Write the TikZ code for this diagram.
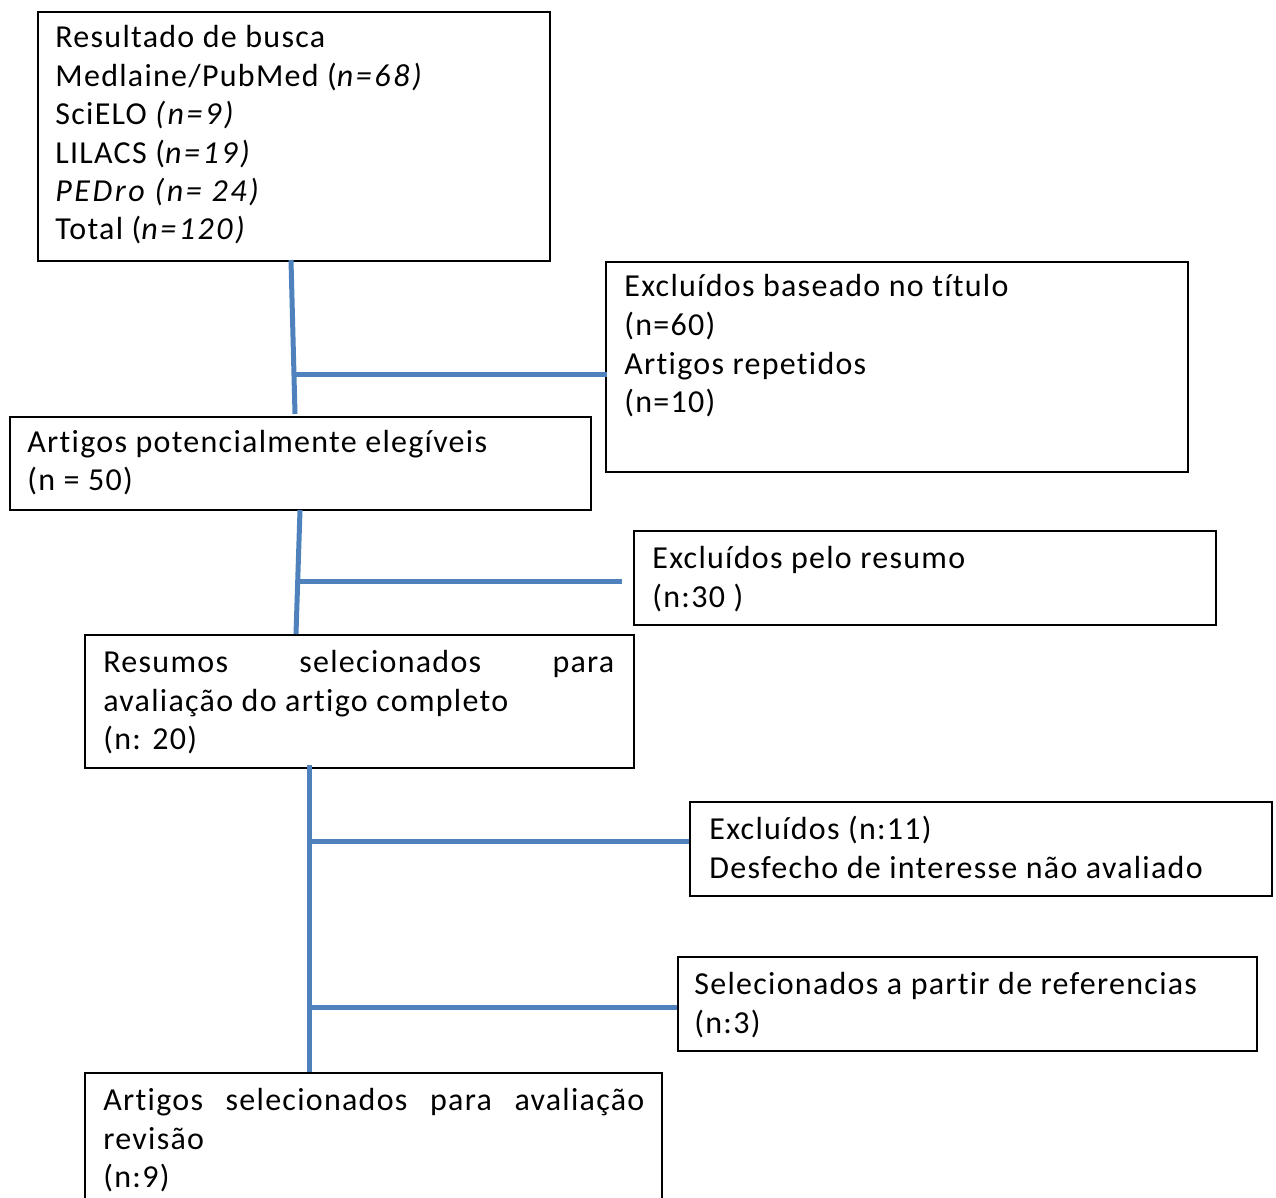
\documentclass[tikz,border=0pt]{standalone}
\usepackage{fontspec}
\setmainfont{Carlito}[LetterSpace=4.0,Ligatures=NoCommon,ItalicFeatures={LetterSpace=8.0}]
\definecolor{flowblue}{RGB}{79,129,189}
\begin{document}
\begin{tikzpicture}[x=0.5pt,y=-0.5pt,
  box/.style={draw=black,line width=1pt,inner sep=0pt,anchor=north west,fill=none},
  txt/.style={anchor=base west,inner sep=0pt,font=\fontsize{16}{19.3}\selectfont},
  flow/.style={draw=flowblue,line width=2.5pt}]
\useasboundingbox (0,0) rectangle (1276,1198);
% boxes
\node[box,minimum width=256pt,minimum height=124.5pt] (b1) at (37,11) {};
\node[box,minimum width=291pt,minimum height=105pt] (b2) at (605,261) {};
\node[box,minimum width=290.5pt,minimum height=46.5pt] (b3) at (9,416) {};
\node[box,minimum width=291pt,minimum height=47pt] (b4) at (633,530) {};
\node[box,minimum width=274.5pt,minimum height=66.5pt] (b5) at (84,634) {};
\node[box,minimum width=291pt,minimum height=47pt] (b6) at (689,801) {};
\node[box,minimum width=289.5pt,minimum height=47pt] (b7) at (677,956) {};
\node[box,minimum width=288.5pt,minimum height=76pt] (b8) at (84,1072) {};
% texts box 1
\node[txt] (t11) at (55,48) {Resultado de busca};
\node[txt] (t12) at (55,86.5) {Medlaine/PubMed (\textit{n=68)}};
\node[txt] (t13) at (55,125) {SciELO \textit{(n=9)}};
\node[txt] (t14) at (55,163.5) {LILACS (\textit{n=19)}};
\node[txt] (t15) at (55,202) {\textit{PEDro (n= 24)}};
\node[txt] (t16) at (55,240) {Total (\textit{n=120)}};
% box 2
\node[txt] (t21) at (624,297) {Excluídos baseado no título};
\node[txt] (t22) at (624,336) {(n=60)};
\node[txt] (t23) at (624,374.5) {Artigos repetidos};
\node[txt] (t24) at (624,413) {(n=10)};
% box 3
\node[txt] (t31) at (27,452) {Artigos potencialmente elegíveis};
\node[txt] (t32) at (27,491) {(n = 50)};
% box 4
\node[txt] (t41) at (652,568) {Excluídos pelo resumo};
\node[txt] (t42) at (652,607) {(n:30 )};
% box 5
\node[txt] (t51) at (103,672) {\hbox to 255.5pt{Resumos\hfill selecionados\hfill para}};
\node[txt] (t52) at (103,711) {avaliação do artigo completo};
\node[txt] (t53) at (103,749.5) {(n: 20)};
% box 6
\node[txt] (t61) at (709,839) {Excluídos (n:11)};
\node[txt] (t62) at (709,878) {Desfecho de interesse não avaliado};
% box 7
\node[txt] (t71) at (694,994) {Selecionados a partir de referencias};
\node[txt] (t72) at (694,1033) {(n:3)};
% box 8
\node[txt] (t81) at (103,1110) {\hbox to 270.5pt{Artigos\hfill selecionados\hfill para\hfill avaliação}};
\node[txt] (t82) at (103,1149) {revisão};
\node[txt] (t83) at (103,1187.5) {(n:9)};
% connectors
\coordinate (a1) at (291,260);
\coordinate (a2) at (295,414);
\coordinate (j1) at (295,375);
\coordinate (e1) at (607,375);
\coordinate (a3) at (300,510);
\coordinate (a4) at (296,634);
\coordinate (j2) at (299,581);
\coordinate (e2) at (622,581);
\coordinate (a5) at (309,765);
\coordinate (a6) at (309,1072);
\coordinate (j3) at (309,841);
\coordinate (j4) at (309,1007);
\draw[flow] (a1) -- (a2);
\draw[flow] (j1) -- (e1);
\draw[flow] (a3) -- (a4);
\draw[flow] (j2) -- (e2);
\draw[flow] (a5) -- (a6);
\draw[flow] (j3) -- (j3 -| b6.west);
\draw[flow] (j4) -- (j4 -| b7.west);
\end{tikzpicture}
\end{document}
